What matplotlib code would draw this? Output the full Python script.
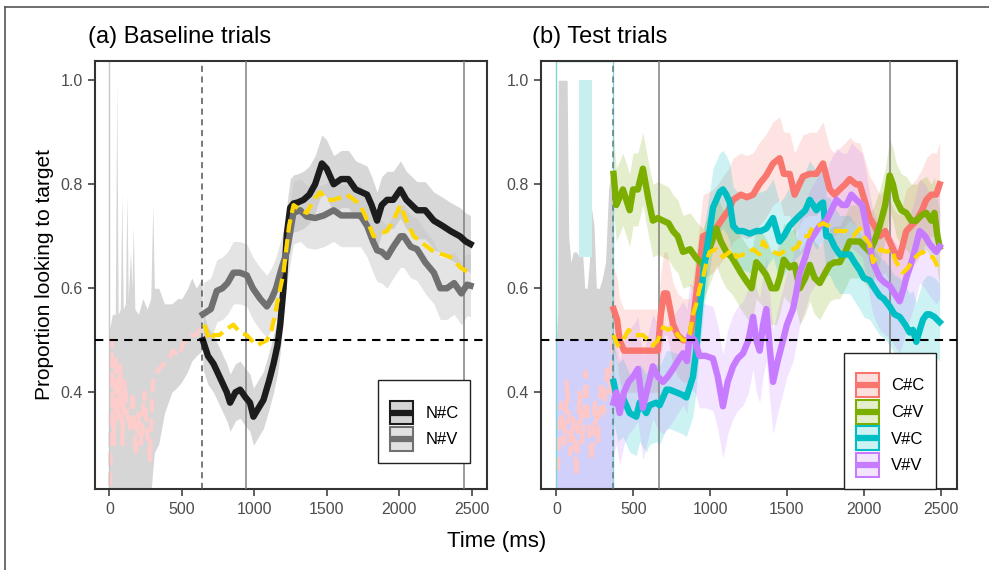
import numpy as np
import matplotlib
matplotlib.use("Agg")
import matplotlib.pyplot as plt
from matplotlib.lines import Line2D
from matplotlib.patches import Rectangle
from matplotlib.legend_handler import HandlerBase

plt.rcParams['font.family'] = ['Liberation Sans', 'DejaVu Sans']

# ---------------- data: panel (a) baseline trials ----------------
NC_t = [645, 680, 718, 760, 810, 833, 870, 902, 940, 970, 994, 1030, 1063, 1100, 1133, 1160, 1179, 1202, 1225, 1248,
        1271, 1300, 1340, 1380, 1420, 1467, 1500, 1548, 1600, 1650, 1700, 1779, 1810, 1848, 1880, 1917, 1960, 2009,
        2050, 2124, 2180, 2240, 2300, 2355, 2420, 2460, 2493]
NC_v = [0.50, 0.47, 0.455, 0.43, 0.40, 0.38, 0.40, 0.405, 0.39, 0.38, 0.353, 0.37, 0.385, 0.42, 0.455, 0.49, 0.53,
        0.60, 0.705, 0.755, 0.763, 0.765, 0.77, 0.78, 0.80, 0.84, 0.83, 0.80, 0.81, 0.81, 0.79, 0.78, 0.76, 0.73,
        0.76, 0.77, 0.77, 0.79, 0.77, 0.75, 0.75, 0.73, 0.72, 0.71, 0.70, 0.69, 0.685]
NC_se = 0.055

NV_t = [645, 700, 741, 780, 815, 856, 900, 948, 990, 1040, 1087, 1120, 1150, 1190, 1225, 1270, 1317, 1363, 1420,
        1480, 1548, 1600, 1660, 1733, 1779, 1820, 1848, 1880, 1917, 1960, 2009, 2032, 2080, 2124, 2180, 2240, 2284,
        2330, 2380, 2430, 2469, 2493]
NV_v = [0.55, 0.56, 0.595, 0.60, 0.61, 0.63, 0.63, 0.625, 0.60, 0.58, 0.565, 0.58, 0.60, 0.64, 0.67, 0.745, 0.75,
        0.738, 0.735, 0.74, 0.75, 0.74, 0.74, 0.74, 0.72, 0.69, 0.673, 0.67, 0.66, 0.68, 0.70, 0.70, 0.68, 0.675,
        0.65, 0.63, 0.60, 0.60, 0.61, 0.59, 0.607, 0.605]
NV_se = 0.06

MA_t = [655, 690, 720, 760, 800, 856, 900, 948, 980, 1017, 1050, 1087, 1120, 1150, 1202, 1240, 1271, 1320, 1363,
        1410, 1455, 1500, 1548, 1600, 1640, 1690, 1733, 1780, 1824, 1870, 1917, 1960, 2009, 2050, 2101, 2170, 2240,
        2300, 2355, 2424, 2480]
MA_v = [0.53, 0.50, 0.51, 0.51, 0.52, 0.53, 0.515, 0.51, 0.50, 0.49, 0.495, 0.50, 0.52, 0.56, 0.63, 0.72, 0.76,
        0.75, 0.745, 0.77, 0.785, 0.77, 0.77, 0.775, 0.78, 0.77, 0.76, 0.73, 0.70, 0.705, 0.71, 0.73, 0.76, 0.73,
        0.70, 0.685, 0.67, 0.665, 0.66, 0.64, 0.63]

# faded pre-window (a)
PA_t = [0, 20, 40, 50, 60, 75, 85, 95, 110, 120, 130, 145, 155, 164, 175, 200, 230, 260, 285, 299, 310, 340, 380,
        430, 470, 499, 540, 568, 600, 640]
PA_hi = [0.52, 0.55, 0.55, 1.0, 0.55, 0.56, 0.78, 0.56, 0.57, 0.78, 0.58, 0.67, 0.60, 0.72, 0.56, 0.55, 0.58, 0.56,
         0.58, 0.76, 0.60, 0.60, 0.57, 0.57, 0.58, 0.58, 0.60, 0.62, 0.60, 0.62]
PA_lo = [0.2] * 19 + [0.25, 0.284, 0.30, 0.36, 0.40, 0.41, 0.42, 0.44, 0.46, 0.47, 0.48]
PAm_t = [5, 15, 30, 45, 60, 75, 90, 105, 120, 140, 160, 180, 200, 220, 240, 260, 280, 300, 330, 360, 400, 440, 480,
         520, 560, 600, 640]
PAm_v = [0.22, 0.50, 0.30, 0.47, 0.35, 0.45, 0.30, 0.42, 0.36, 0.33, 0.40, 0.28, 0.36, 0.30, 0.40, 0.32, 0.27,
         0.42, 0.44, 0.45, 0.46, 0.48, 0.47, 0.50, 0.51, 0.51, 0.53]

# ---------------- data: panel (b) test trials ----------------
CC_t = [372, 395, 412, 440, 470, 500, 540, 580, 620, 660, 680, 700, 720, 740, 760, 790, 824, 867, 890, 911, 935, 954,
        990, 1019, 1050, 1084, 1120, 1150, 1200, 1240, 1280, 1320, 1366, 1410, 1453, 1480, 1518, 1550, 1605, 1650,
        1692, 1735, 1779, 1810, 1844, 1880, 1909, 1950, 1974, 2005, 2039, 2070, 2104, 2140, 2169, 2200, 2234, 2277,
        2310, 2342, 2380, 2407, 2440, 2472, 2494]
CC_v = [0.56, 0.54, 0.50, 0.48, 0.48, 0.48, 0.48, 0.48, 0.48, 0.48, 0.55, 0.59, 0.59, 0.56, 0.53, 0.51, 0.50, 0.50,
        0.54, 0.59, 0.65, 0.70, 0.705, 0.71, 0.72, 0.735, 0.75, 0.77, 0.78, 0.775, 0.78, 0.80, 0.817, 0.84, 0.85,
        0.82, 0.82, 0.78, 0.815, 0.82, 0.82, 0.84, 0.79, 0.78, 0.79, 0.80, 0.81, 0.80, 0.80, 0.77, 0.735, 0.72, 0.70,
        0.71, 0.69, 0.67, 0.66, 0.71, 0.72, 0.73, 0.75, 0.77, 0.78, 0.78, 0.80]
CC_se = 0.08

CV_t = [372, 390, 433, 477, 499, 530, 563, 600, 628, 660, 694, 730, 759, 790, 824, 870, 911, 954, 1000, 1041, 1070,
        1106, 1140, 1171, 1200, 1236, 1270, 1301, 1330, 1366, 1400, 1432, 1453, 1480, 1518, 1550, 1584, 1620, 1649,
        1680, 1714, 1750, 1779, 1810, 1844, 1880, 1909, 1940, 1974, 2005, 2039, 2070, 2104, 2140, 2169, 2190, 2212,
        2245, 2277, 2310, 2342, 2375, 2407, 2440, 2460, 2480, 2494]
CV_v = [0.82, 0.76, 0.79, 0.75, 0.79, 0.79, 0.83, 0.77, 0.73, 0.735, 0.73, 0.725, 0.71, 0.70, 0.67, 0.675, 0.658,
        0.645, 0.68, 0.715, 0.69, 0.67, 0.66, 0.645, 0.63, 0.614, 0.60, 0.65, 0.64, 0.625, 0.60, 0.60, 0.62, 0.655,
        0.64, 0.645, 0.60, 0.62, 0.645, 0.62, 0.61, 0.63, 0.645, 0.65, 0.65, 0.67, 0.69, 0.69, 0.69, 0.68, 0.67,
        0.69, 0.72, 0.76, 0.817, 0.80, 0.77, 0.75, 0.745, 0.73, 0.73, 0.74, 0.745, 0.73, 0.745, 0.70, 0.68]
CV_se = 0.07

VC_t = [372, 400, 433, 477, 520, 542, 585, 607, 650, 672, 716, 737, 780, 820, 846, 889, 910, 932, 960, 997, 1019,
        1041, 1063, 1084, 1106, 1128, 1150, 1180, 1215, 1258, 1301, 1330, 1366, 1410, 1453, 1480, 1518, 1550, 1584,
        1620, 1649, 1692, 1714, 1735, 1757, 1779, 1810, 1844, 1880, 1909, 1940, 1974, 2000, 2039, 2070, 2104, 2130,
        2169, 2200, 2234, 2270, 2299, 2320, 2342, 2365, 2386, 2410, 2429, 2460, 2494]
VC_v = [0.42, 0.38, 0.39, 0.36, 0.353, 0.38, 0.36, 0.375, 0.38, 0.375, 0.405, 0.405, 0.40, 0.395, 0.39, 0.43, 0.48,
        0.557, 0.64, 0.71, 0.755, 0.77, 0.785, 0.79, 0.78, 0.765, 0.72, 0.71, 0.71, 0.705, 0.71, 0.71, 0.715, 0.735,
        0.69, 0.70, 0.72, 0.73, 0.74, 0.75, 0.77, 0.75, 0.76, 0.765, 0.70, 0.70, 0.68, 0.665, 0.665, 0.665, 0.65,
        0.635, 0.62, 0.615, 0.60, 0.585, 0.58, 0.565, 0.55, 0.545, 0.53, 0.515, 0.52, 0.497, 0.52, 0.54, 0.55, 0.55,
        0.545, 0.535]
VC_se = 0.075

VV_t = [372, 390, 412, 440, 470, 499, 531, 563, 595, 628, 660, 694, 725, 759, 790, 824, 850, 867, 900, 932, 970,
        1019, 1050, 1084, 1115, 1150, 1180, 1215, 1250, 1280, 1301, 1323, 1345, 1366, 1390, 1410, 1440, 1475, 1500,
        1540, 1560, 1584, 1620, 1649, 1670, 1714, 1757, 1790, 1822, 1860, 1887, 1920, 1952, 1990, 2017, 2040, 2060,
        2104, 2140, 2169, 2200, 2234, 2260, 2277, 2300, 2321, 2364, 2400, 2429, 2472, 2494]
VV_v = [0.38, 0.40, 0.36, 0.40, 0.42, 0.43, 0.445, 0.37, 0.41, 0.45, 0.43, 0.42, 0.43, 0.445, 0.46, 0.475, 0.46,
        0.51, 0.50, 0.47, 0.47, 0.465, 0.43, 0.373, 0.42, 0.45, 0.465, 0.475, 0.50, 0.545, 0.50, 0.48, 0.53, 0.56,
        0.48, 0.42, 0.46, 0.50, 0.53, 0.56, 0.59, 0.63, 0.66, 0.69, 0.70, 0.72, 0.73, 0.75, 0.77, 0.76, 0.76, 0.78,
        0.77, 0.76, 0.72, 0.68, 0.65, 0.62, 0.61, 0.605, 0.59, 0.575, 0.60, 0.62, 0.64, 0.66, 0.71, 0.70, 0.685,
        0.67, 0.68]
VV_se = 0.10

MB_t = [372, 400, 434, 470, 499, 530, 563, 600, 628, 660, 694, 730, 759, 790, 824, 846, 867, 889, 911, 932, 954,
        976, 997, 1041, 1084, 1106, 1150, 1171, 1215, 1236, 1280, 1323, 1345, 1366, 1410, 1453, 1475, 1540, 1570,
        1605, 1640, 1670, 1700, 1735, 1770, 1800, 1840, 1887, 1930, 1974, 2000, 2039, 2060, 2082, 2110, 2147, 2180,
        2212, 2256, 2290, 2321, 2355, 2386, 2420, 2451, 2483]
MB_v = [0.51, 0.49, 0.50, 0.52, 0.51, 0.51, 0.51, 0.50, 0.49, 0.50, 0.525, 0.52, 0.525, 0.51, 0.50, 0.50, 0.51,
        0.55, 0.57, 0.60, 0.62, 0.65, 0.67, 0.675, 0.66, 0.665, 0.675, 0.66, 0.665, 0.665, 0.675, 0.665, 0.69, 0.68,
        0.67, 0.665, 0.67, 0.675, 0.68, 0.70, 0.70, 0.72, 0.72, 0.725, 0.72, 0.71, 0.71, 0.71, 0.70, 0.715, 0.70,
        0.685, 0.65, 0.66, 0.675, 0.67, 0.675, 0.65, 0.63, 0.64, 0.655, 0.665, 0.67, 0.66, 0.66, 0.64]

# faded pre-window (b)
PB_t = [0, 8, 12, 40, 70, 80, 95, 110, 130, 150, 170, 185, 200, 215, 228, 245, 260, 280, 300, 320, 340, 355, 370]
PB_hi = [0.50, 0.55, 1.0, 1.0, 1.0, 0.70, 0.65, 0.67, 0.67, 0.66, 0.67, 0.60, 0.60, 0.65, 0.755, 0.72, 0.60, 0.60,
         0.62, 0.65, 0.79, 0.82, 0.80]
PBm_t = [10, 30, 50, 70, 90, 110, 130, 150, 170, 190, 210, 230, 250, 270, 290, 310, 330, 350, 368]
PBm_v = [0.25, 0.38, 0.30, 0.42, 0.28, 0.35, 0.24, 0.40, 0.30, 0.44, 0.33, 0.27, 0.38, 0.30, 0.42, 0.36, 0.45,
         0.40, 0.50]

X_TICKS = [0, 500, 1000, 1500, 2000, 2500]
Y_TICKS = [0.4, 0.6, 0.8, 1.0]
A_VLINES = [945, 2450]
A_DASH = 642
B_VLINES = [668, 2170]
B_DASH = 370
CHANCE = 0.5

C_NC, C_NV = '#1c1c1c', '#707070'
C_CC, C_CV, C_VC, C_VV = '#F8766D', '#7CAE00', '#00BFC4', '#C77CFF'
C_MEAN = '#FFD700'
XLIM = (-100, 2607)
YLIM = (0.214, 1.037)

W, H = 989, 570
fig = plt.figure(figsize=(W / 100, H / 100), dpi=100)


def rect(l, t, r, b):
    return [l / W, 1 - b / H, (r - l) / W, (b - t) / H]


class KeyHandler(HandlerBase):
    """ggplot-like key: light ribbon fill with coloured border and a thick centre line."""

    def __init__(self, fill, edge):
        super().__init__()
        self.fill, self.edge = fill, edge

    def create_artists(self, legend, orig_handle, xdescent, ydescent, width, height, fontsize, trans):
        r = Rectangle((-xdescent + 0.75, -ydescent + 0.5), width - 1.5, height - 1.0,
                      fc=self.fill, ec=self.edge, lw=1.5, transform=trans)
        y = -ydescent + height / 2
        ln = Line2D([-xdescent + 0.75, -xdescent + width - 0.75], [y, y], color=self.edge, lw=4.5,
                    solid_capstyle='butt', transform=trans)
        return [r, ln]


axA = fig.add_axes(rect(95, 61, 487, 489))
axB = fig.add_axes(rect(541, 61, 957, 489))

for ax in (axA, axB):
    ax.set_xlim(*XLIM)
    ax.set_ylim(*YLIM)
    ax.set_xticks(X_TICKS)
    ax.set_yticks(Y_TICKS)
    ax.set_yticklabels([f"{v:.1f}" for v in Y_TICKS])
    ax.tick_params(axis='both', direction='out', length=5, width=1.1, color='#333333',
                   labelsize=11.5, labelcolor='#4d4d4d', pad=4)
    for s in ax.spines.values():
        s.set_color('#333333')
        s.set_linewidth(1.5)

LW = 4.6
DASH = (0, (3.2, 1.6))

# ---- panel a ----
axA.fill_between(PA_t, PA_lo, PA_hi, color='#d6d6d6', lw=0, zorder=1)
axA.plot(PAm_t, PAm_v, color='#ffcccc', lw=3, ls=DASH, zorder=2)
axA.axvline(0, color='#c8c8c8', lw=1, zorder=2)
axA.axvline(A_DASH, color='#555555', lw=1.1, ls=(0, (4, 3)), zorder=3)
for v in A_VLINES:
    axA.axvline(v, color='#808080', lw=1.1, zorder=3)

nc_v = np.array(NC_v)
nv_v = np.array(NV_v)
axA.fill_between(NC_t, nc_v - NC_se, nc_v + NC_se, color='#a8a8a8', alpha=0.45, lw=0, zorder=2)
axA.fill_between(NV_t, nv_v - NV_se, nv_v + NV_se, color='#c4c4c4', alpha=0.45, lw=0, zorder=2)
axA.plot(NC_t, NC_v, color=C_NC, lw=LW, zorder=4, solid_joinstyle='round')
axA.plot(NV_t, NV_v, color=C_NV, lw=LW, zorder=5, solid_joinstyle='round')
axA.plot(MA_t, MA_v, color=C_MEAN, lw=3, ls=DASH, zorder=6)
axA.axhline(CHANCE, color='black', lw=1.5, ls=(0, (4, 3)), zorder=7)

LEG_KW = dict(loc='lower right', fontsize=12, handlelength=1.5, handleheight=1.95, labelspacing=0.08,
              handletextpad=0.65, borderpad=0.7, borderaxespad=0, fancybox=False, framealpha=1,
              edgecolor='#222222', title=' ', title_fontsize=6)

keysA = [('N#C', '#d4d4d4', C_NC), ('N#V', '#e2e2e2', C_NV)]
hA = [Line2D([], []) for _ in keysA]
legA = axA.legend(handles=hA, labels=[k[0] for k in keysA], bbox_to_anchor=(0.957, 0.06),
                  handler_map={h: KeyHandler(k[1], k[2]) for h, k in zip(hA, keysA)}, **LEG_KW)
legA.get_frame().set_linewidth(1.0)
legA.set_zorder(10)

# ---- panel b ----
axB.fill_between(PB_t, CHANCE, PB_hi, color='#d3d3d3', lw=0, zorder=1)
axB.fill_between([0, B_DASH], YLIM[0], CHANCE, color='#d0d0fb', lw=0, zorder=1)
axB.fill_between([150, 230], 0.66, 1.0, color='#c8eff0', lw=0, zorder=1)
axB.plot(PBm_t, PBm_v, color='#ffc8c8', lw=3, ls=DASH, zorder=2)
axB.add_patch(Rectangle((0, YLIM[0]), B_DASH, YLIM[1] - YLIM[0], fill=False, ec='#7fd6d9', lw=1, zorder=2))
axB.axvline(B_DASH, color='#5f7f80', lw=1.1, ls=(0, (4, 3)), zorder=3)
for v in B_VLINES:
    axB.axvline(v, color='#808080', lw=1.1, zorder=3)

series_b = [(CC_t, CC_v, CC_se, C_CC, 'C#C'), (CV_t, CV_v, CV_se, C_CV, 'C#V'),
            (VC_t, VC_v, VC_se, C_VC, 'V#C'), (VV_t, VV_v, VV_se, C_VV, 'V#V')]
for t, v, se, c, _ in series_b:
    vv = np.array(v)
    axB.fill_between(t, vv - se, vv + se, color=c, alpha=0.2, lw=0, zorder=2)
for i, (t, v, se, c, _) in enumerate(series_b):
    axB.plot(t, v, color=c, lw=LW, zorder=4 + i, solid_joinstyle='round')
axB.plot(MB_t, MB_v, color=C_MEAN, lw=3, ls=DASH, zorder=9)
axB.axhline(CHANCE, color='black', lw=1.5, ls=(0, (4, 3)), zorder=8)

fills_b = ['#fde0de', '#e5efcc', '#ccf2f3', '#f4e5ff']
hB = [Line2D([], []) for _ in series_b]
legB = axB.legend(handles=hB, labels=[s[4] for s in series_b], bbox_to_anchor=(0.95, 0.0),
                  handler_map={h: KeyHandler(f, s[3]) for h, f, s in zip(hB, fills_b, series_b)}, **LEG_KW)
legB.get_frame().set_linewidth(1.0)
legB.set_zorder(10)

# ---- titles, labels, figure border ----
fig.text(88 / W, 1 - 37 / H, '(a) Baseline trials', fontsize=17, va='center', ha='left')
fig.text(532 / W, 1 - 37 / H, '(b) Test trials', fontsize=17, va='center', ha='left')
fig.text(45 / W, 1 - 275 / H, 'Proportion looking to target', fontsize=15, rotation=90, va='center', ha='center')
fig.text(497 / W, 1 - 541 / H, 'Time (ms)', fontsize=16, va='center', ha='center')
fig.add_artist(Line2D([5 / W, 5 / W], [0, 1 - 7 / H], color='#555555', lw=1.2))
fig.add_artist(Line2D([5 / W, 1], [1 - 7 / H, 1 - 7 / H], color='#555555', lw=1.2))

fig.savefig('out.png', dpi=100)
